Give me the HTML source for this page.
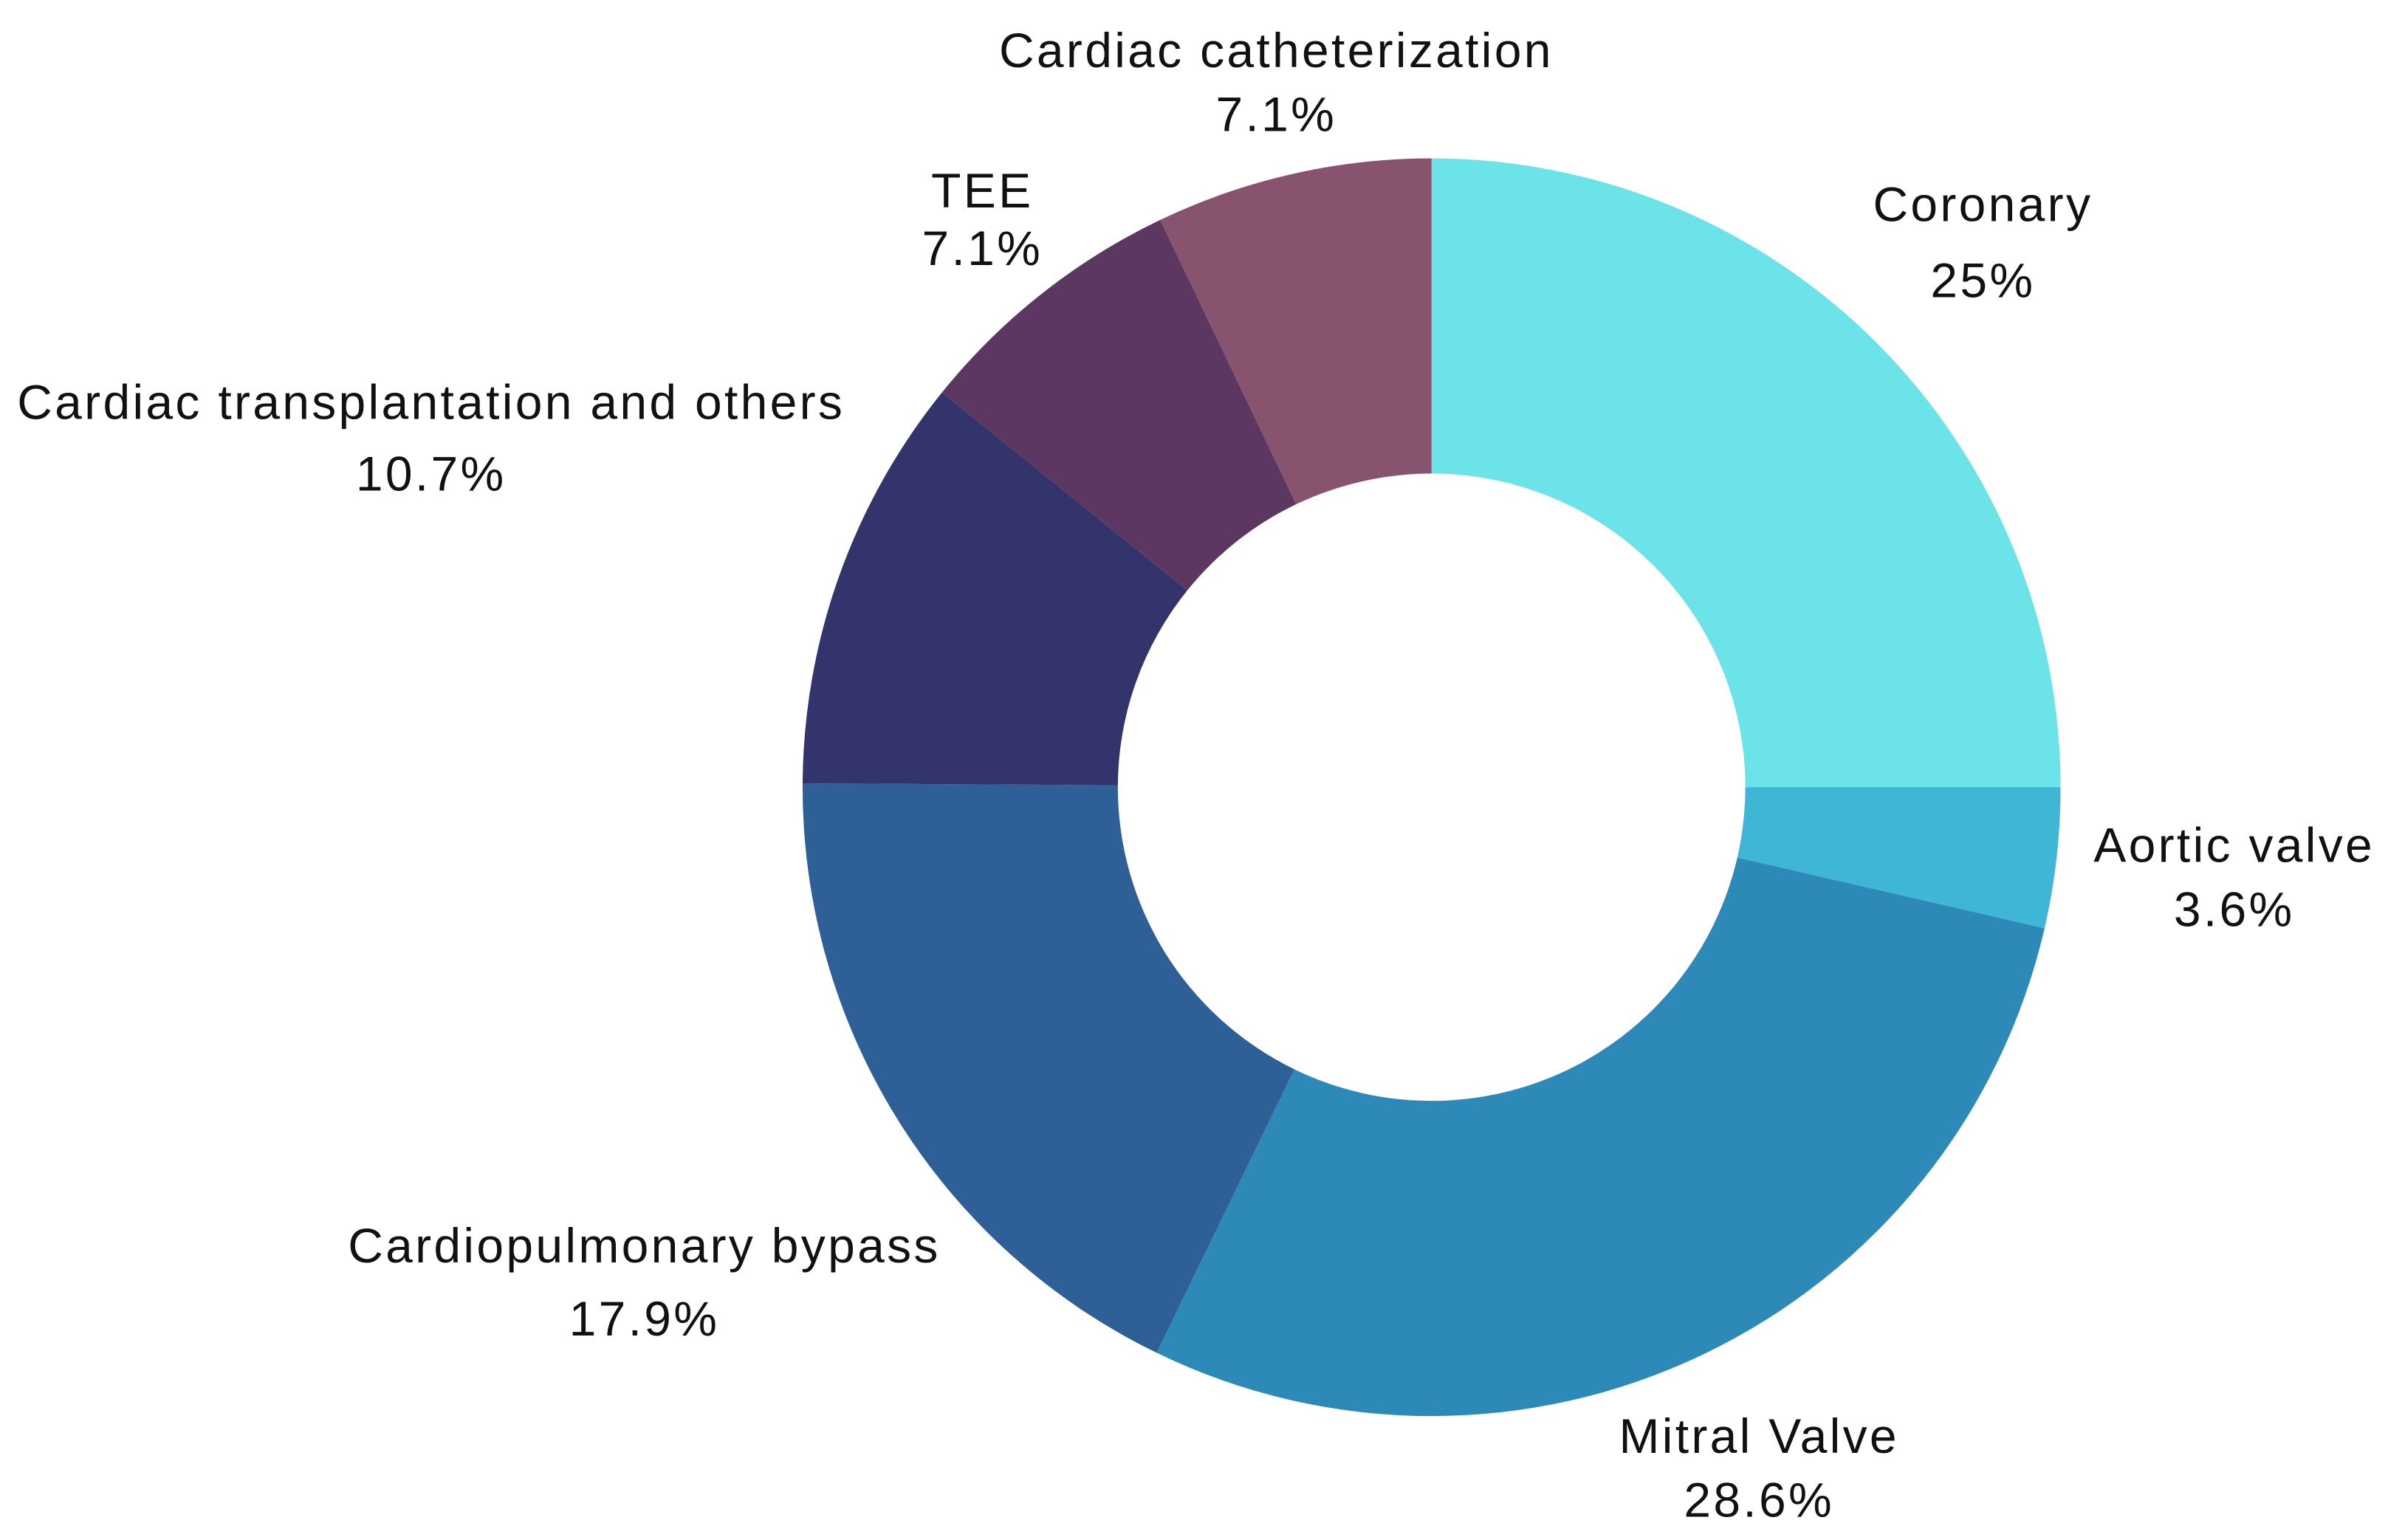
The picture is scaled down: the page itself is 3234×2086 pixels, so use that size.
<!DOCTYPE html>
<html><head><meta charset="utf-8">
<style>
html,body{margin:0;padding:0;background:#fff;}
svg{display:block;}
text{font-family:"Liberation Sans",sans-serif;font-size:32px;letter-spacing:1.6px;fill:#111;text-anchor:middle;dominant-baseline:central;}
</style></head>
<body>
<svg id="chart" width="3234" height="2086" viewBox="0 0 1568 1011.4" xmlns="http://www.w3.org/2000/svg">
<g id="slices"></g>
<g id="labels"></g>
</svg>
<script>
const categories = ["Coronary","Aortic valve","Mitral Valve","Cardiopulmonary bypass","Cardiac transplantation and others","TEE","Cardiac catheterization"];
const values = [25,3.6,28.6,17.9,10.7,7.1,7.1];
const valueLabels = ["25%","3.6%","28.6%","17.9%","10.7%","7.1%","7.1%"];
const colors = ["#6be3e8","#40b6d6","#2d8ab8","#2e5f97","#32346b","#5c3762","#87536e"];
const labelPos = [[1302,134,184],[1467,555,597],[1155,943,985],[423,818,866],[283,264,311],[645,125,163],[838,33,75]];

const cx=940, cy=517, R=413, r=206;
const ns="http://www.w3.org/2000/svg";
const total = values.reduce((a,b)=>a+b,0);
const sg=document.getElementById('slices'), lg=document.getElementById('labels');
function pt(rad,a){return [cx+rad*Math.sin(a), cy-rad*Math.cos(a)];}
let acc=0;
values.forEach((v,i)=>{
  const a0=acc/total*2*Math.PI; acc+=v; const a1=acc/total*2*Math.PI;
  const large=(a1-a0)>Math.PI?1:0;
  const p0=pt(R,a0),p1=pt(R,a1),q1=pt(r,a1),q0=pt(r,a0);
  const p=document.createElementNS(ns,'path');
  p.setAttribute('d',`M${p0} A${R},${R} 0 ${large} 1 ${p1} L${q1} A${r},${r} 0 ${large} 0 ${q0} Z`);
  p.setAttribute('fill',colors[i]);
  
  
  sg.appendChild(p);
  const lp=labelPos[i];
  const t1=document.createElementNS(ns,'text');
  t1.setAttribute('x',lp[0]);t1.setAttribute('y',lp[1]);t1.textContent=categories[i];
  
  
  lg.appendChild(t1);
  const t2=document.createElementNS(ns,'text');
  t2.setAttribute('x',lp[0]);t2.setAttribute('y',lp[2]);t2.textContent=valueLabels[i];
  
  
  lg.appendChild(t2);
});
</script>
</body></html>
